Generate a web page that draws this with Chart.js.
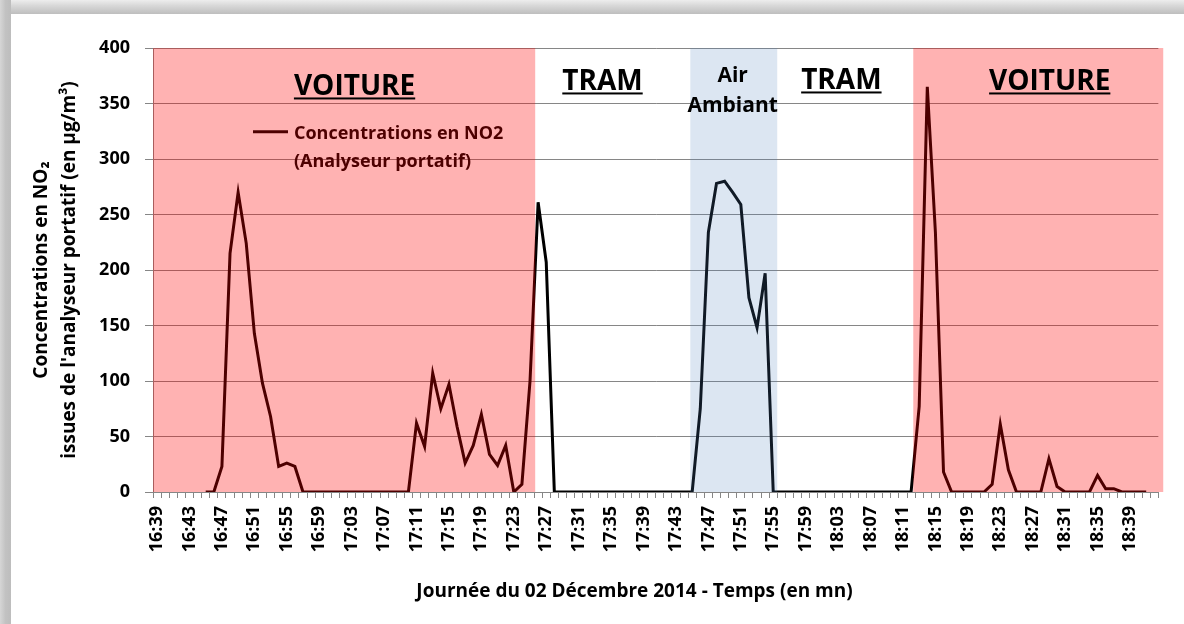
<!DOCTYPE html>
<html><head><meta charset="utf-8">
<script src="https://cdn.jsdelivr.net/npm/chart.js@4.4.0/dist/chart.umd.min.js"></script>
<style>
html,body{margin:0;padding:0;background:#fff;}
#wrap{position:relative;width:1184px;height:624px;overflow:hidden;background:#fff;}
#topbar{position:absolute;left:0;top:0;width:1184px;height:14px;background:linear-gradient(to bottom,#ededed 0%,#d8d8d8 40%,#bebebe 100%);}
#leftbar{position:absolute;left:0;top:0;width:11px;height:624px;background:linear-gradient(to right,#d6d6d6 0%,#c2c2c2 50%,#bdbdbd 100%);}
canvas{position:absolute;left:0;top:0;}
</style></head><body>
<div id="wrap"><div id="topbar"></div><div id="leftbar"></div><canvas id="c" width="1184" height="624"></canvas></div>
<script>
// ---- data ----
const categories = [
 '16:39','16:40','16:41','16:42','16:43','16:44','16:45','16:46','16:47','16:48','16:49','16:50','16:51','16:52','16:53','16:54','16:55','16:56','16:57','16:58','16:59',
 '17:00','17:01','17:02','17:03','17:04','17:05','17:06','17:07','17:08','17:09','17:10','17:11','17:12','17:13','17:14','17:15','17:16','17:17','17:18','17:19',
 '17:20','17:21','17:22','17:23','17:24','17:25','17:26','17:27','17:28','17:29','17:30','17:31','17:32','17:33','17:34','17:35','17:36','17:37','17:38','17:39',
 '17:40','17:41','17:42','17:43','17:44','17:45','17:46','17:47','17:48','17:49','17:50','17:51','17:52','17:53','17:54','17:55','17:56','17:57','17:58','17:59',
 '18:00','18:01','18:02','18:03','18:04','18:05','18:06','18:07','18:08','18:09','18:10','18:11','18:12','18:13','18:14','18:15','18:16','18:17','18:18','18:19',
 '18:20','18:21','18:22','18:23','18:24','18:25','18:26','18:27','18:28','18:29','18:30','18:31','18:32','18:33','18:34','18:35','18:36','18:37','18:38','18:39',
 '18:40','18:41','18:42'
];
const no2Values = [
 null,null,null,null,null,null,
 0,0,23,215,270,224,143,98,68,23,26,23,
 0,0,0,0,0,0,0,0,0,0,0,0,0,0,
 62,41,107,75,97,59,26,42,70,34,24,42,0,7,100,261,207,
 0,0,0,0,0,0,0,0,0,0,0,0,0,0,0,0,0,0,
 75,234,278,280,270,259,175,148,197,
 0,0,0,0,0,0,0,0,0,0,0,0,0,0,0,0,0,0,
 77,365,234,18,
 0,0,0,0,0,
 7,61,20,
 0,0,0,0,
 30,5,
 0,0,0,0,
 15,3,3,
 0,0,0,0,
 null
];
const labelEvery = 4;
const yTickValues = [0,50,100,150,200,250,300,350,400];
const seriesLabel = ['Concentrations en NO2', '(Analyseur portatif)'];
const yTitleLines = ['Concentrations en NO\u2082', "issues de l'analyseur portatif (en \u00b5g/m\u00b3)"];
const xTitleText = 'Journ\u00e9e du 02 D\u00e9cembre 2014 - Temps (en mn)';
// shaded zones, in category-index units
const bandFrom = [-0.5, 65.77, 93.27];
const bandTo   = [46.64, 76.49, 124.1];
const bandKind = ['car', 'air', 'car'];
// zone captions
const zoneText = [['VOITURE'], ['TRAM'], ['Air', 'Ambiant'], ['TRAM'], ['VOITURE']];
const zoneX = [24.36, 54.94, 70.99, 84.4, 110.1];
const zoneBaseline = [[357.7], [362.2], [369.6, 342.6], [363.1], [362.2]];
const zoneUnderline = [true, true, false, true, true];

const FONT = '"Open Sans", "DejaVu Sans", sans-serif';

const zonesPlugin = {
  id: 'zones',
  afterDatasetsDraw(chart) {
    const {ctx, chartArea: ca, scales: {x, y}} = chart;
    ctx.save();
    // legend (under the overlay, like the reference)
    const lx = ca.left + 100, ly = ca.top + 83.7;
    ctx.strokeStyle = '#000'; ctx.lineWidth = 3;
    ctx.beginPath(); ctx.moveTo(lx, ly); ctx.lineTo(lx + 35, ly); ctx.stroke();
    ctx.fillStyle = '#000'; ctx.font = 'bold 18px ' + FONT;
    ctx.textAlign = 'left'; ctx.textBaseline = 'alphabetic';
    ctx.fillText(seriesLabel[0], lx + 41, ca.top + 91.3);
    ctx.fillText(seriesLabel[1], lx + 41, ca.top + 118.6);
    // translucent bands
    for (let i = 0; i < bandFrom.length; i++) {
      const x0 = x.getPixelForValue(bandFrom[i]);
      const x1 = x.getPixelForValue(bandTo[i]);
      ctx.fillStyle = bandKind[i] === 'car' ? 'rgba(255,0,0,0.30)' : 'rgba(79,129,189,0.20)';
      ctx.fillRect(x0, ca.top, x1 - x0, ca.bottom - ca.top);
    }
    // zone captions
    ctx.fillStyle = '#000'; ctx.textAlign = 'center'; ctx.textBaseline = 'alphabetic';
    for (let i = 0; i < zoneText.length; i++) {
      const cx = x.getPixelForValue(zoneX[i]);
      ctx.font = 'bold ' + (zoneUnderline[i] ? 28 : 21) + 'px ' + FONT;
      for (let j = 0; j < zoneText[i].length; j++) {
        const by = y.getPixelForValue(zoneBaseline[i][j]);
        ctx.fillText(zoneText[i][j], cx, by);
        if (zoneUnderline[i]) {
          const w = ctx.measureText(zoneText[i][j]).width;
          ctx.fillRect(cx - w / 2, by + 2.5, w, 2);
        }
      }
    }
    ctx.restore();
  },
  afterDraw(chart) {
    const {ctx} = chart;
    ctx.save();
    ctx.fillStyle = '#000'; ctx.font = 'bold 19px ' + FONT;
    ctx.textAlign = 'center'; ctx.textBaseline = 'alphabetic';
    ctx.fillText(xTitleText, 634.5, 597);
    ctx.restore();
  }
};

new Chart(document.getElementById('c'), {
  type: 'line',
  data: {
    labels: categories,
    datasets: [{
      label: seriesLabel.join(' '),
      data: no2Values,
      borderColor: '#000',
      borderWidth: 3,
      pointRadius: 0,
      tension: 0,
      spanGaps: false,
      fill: false
    }]
  },
  options: {
    responsive: false,
    animation: false,
    layout: {padding: {top: 48, right: 20, left: 0, bottom: 0}},
    plugins: {legend: {display: false}, tooltip: {enabled: false}},
    scales: {
      x: {
        type: 'category',
        offset: true,
        afterFit: s => { s.height = 132; },
        grid: {offset: true, drawOnChartArea: false, drawTicks: true, tickLength: 6, color: '#868686'},
        border: {color: '#868686'},
        ticks: {
          autoSkip: false, maxRotation: 90, minRotation: 90, padding: 8,
          color: '#000', font: {family: FONT, weight: 'bold', size: 18},
          callback: (v, i) => (i % labelEvery === 0 ? categories[i] : '')
        }
      },
      y: {
        min: 0, max: 400,
        afterFit: s => { s.width = 153; },
        afterBuildTicks: s => { s.ticks = yTickValues.map(v => ({value: v})); },
        grid: {color: '#868686', tickLength: 8},
        border: {color: '#868686'},
        ticks: {padding: 15, color: '#000', font: {family: FONT, weight: 'bold', size: 18}},
        title: {
          display: true, text: yTitleLines, color: '#000',
          font: {family: FONT, weight: 'bold', size: 19, lineHeight: 1.45},
          padding: {top: 28, bottom: 0}
        }
      }
    }
  },
  plugins: [zonesPlugin]
});
</script>
</body></html>
